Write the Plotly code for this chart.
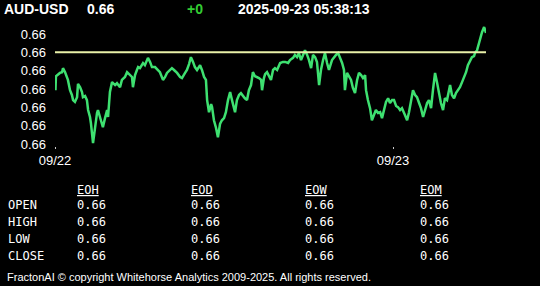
import plotly.graph_objects as go

# ---------------- data ----------------
symbol = "AUD-USD"
last_price = 0.66
change = "+0"
timestamp = "2025-09-23 05:38:13"
prev_close = 0.6595

# minutes since 2025-09-22 00:00
minutes = [0, 2, 4, 13, 21, 30, 34, 43, 51, 55, 64, 72, 77, 85, 94, 98, 107, 115, 119, 128,
           136, 141, 149, 153, 162, 170, 179, 183, 192, 200, 204, 213, 222, 226, 234, 243, 256, 264, 277, 285,
           298, 307, 320, 328, 332, 341, 349, 354, 362, 375, 383, 396, 405, 413, 426, 439, 447, 460, 469, 477,
           490, 498, 507, 520, 533, 541, 554, 562, 571, 579, 588, 596, 605, 618, 626, 635, 643, 648, 656, 665,
           669, 677, 686, 694, 703, 711, 720, 728, 737, 746, 754, 763, 767, 775, 784, 792, 801, 809, 818, 826,
           835, 843, 852, 861, 869, 878, 882, 890, 895, 903, 912, 920, 929, 937, 946, 959, 971, 980, 993, 1001,
           1014, 1022, 1031, 1039, 1048, 1056, 1065, 1074, 1082, 1091, 1099, 1108, 1116, 1125, 1133, 1142, 1150, 1159, 1167, 1180,
           1189, 1197, 1206, 1214, 1223, 1231, 1235, 1244, 1252, 1261, 1269, 1278, 1287, 1295, 1304, 1312, 1321, 1325, 1333, 1342,
           1350, 1359, 1367, 1376, 1385, 1393, 1402, 1410, 1419, 1427, 1436, 1444, 1453, 1461, 1470, 1478, 1487, 1500, 1508, 1517,
           1525, 1534, 1542, 1551, 1559, 1568, 1576, 1585, 1593, 1602, 1610, 1619, 1627, 1636, 1644, 1653, 1661, 1670, 1678, 1683,
           1691, 1700, 1708, 1717, 1725, 1734, 1742, 1751, 1759, 1768, 1776, 1785, 1789, 1798, 1802, 1811, 1819, 1828, 1832, 1836]

prices = [0.65888, 0.65847, 0.65885, 0.65891, 0.65894, 0.65896, 0.65907, 0.65896, 0.65883, 0.65875,
          0.65847, 0.65834, 0.65820, 0.65815, 0.65828, 0.65864, 0.65855, 0.65842, 0.65828, 0.65831,
          0.65820, 0.65793, 0.65774, 0.65757, 0.65703, 0.65746, 0.65785, 0.65793, 0.65774, 0.65760,
          0.65746, 0.65771, 0.65793, 0.65774, 0.65842, 0.65869, 0.65861, 0.65866, 0.65855, 0.65875,
          0.65883, 0.65896, 0.65888, 0.65883, 0.65855, 0.65888, 0.65902, 0.65910, 0.65907, 0.65921,
          0.65915, 0.65935, 0.65924, 0.65910, 0.65910, 0.65902, 0.65896, 0.65875, 0.65883, 0.65894,
          0.65902, 0.65907, 0.65902, 0.65894, 0.65883, 0.65880, 0.65894, 0.65902, 0.65918, 0.65937,
          0.65924, 0.65910, 0.65902, 0.65915, 0.65902, 0.65883, 0.65875, 0.65820, 0.65787, 0.65809,
          0.65801, 0.65765, 0.65744, 0.65719, 0.65755, 0.65765, 0.65771, 0.65787, 0.65820, 0.65842,
          0.65820, 0.65801, 0.65787, 0.65820, 0.65834, 0.65839, 0.65831, 0.65825, 0.65820, 0.65847,
          0.65861, 0.65896, 0.65885, 0.65883, 0.65880, 0.65875, 0.65847, 0.65880, 0.65891, 0.65896,
          0.65885, 0.65875, 0.65902, 0.65907, 0.65902, 0.65921, 0.65924, 0.65924, 0.65921, 0.65929,
          0.65935, 0.65943, 0.65937, 0.65948, 0.65929, 0.65943, 0.65956, 0.65943, 0.65929, 0.65907,
          0.65943, 0.65937, 0.65924, 0.65861, 0.65902, 0.65929, 0.65948, 0.65921, 0.65902, 0.65929,
          0.65937, 0.65943, 0.65948, 0.65935, 0.65921, 0.65902, 0.65847, 0.65894, 0.65885, 0.65875,
          0.65853, 0.65839, 0.65875, 0.65894, 0.65888, 0.65880, 0.65888, 0.65847, 0.65820, 0.65798,
          0.65765, 0.65782, 0.65793, 0.65785, 0.65787, 0.65771, 0.65798, 0.65815, 0.65825, 0.65812,
          0.65820, 0.65820, 0.65804, 0.65801, 0.65793, 0.65798, 0.65785, 0.65765, 0.65787, 0.65820,
          0.65847, 0.65834, 0.65828, 0.65812, 0.65798, 0.65774, 0.65793, 0.65812, 0.65820, 0.65798,
          0.65847, 0.65894, 0.65869, 0.65834, 0.65812, 0.65793, 0.65825, 0.65820, 0.65842, 0.65861,
          0.65834, 0.65825, 0.65839, 0.65847, 0.65855, 0.65869, 0.65880, 0.65896, 0.65915, 0.65929,
          0.65937, 0.65940, 0.65948, 0.65956, 0.65967, 0.65984, 0.66005, 0.66019, 0.66011, 0.66003]

date_ticks = [0, 1440]
date_labels = ["09/22", "09/23"]
price_ticks = [0.6570, 0.6575, 0.6580, 0.6585, 0.6590, 0.6595, 0.6600]

columns = ["EOH", "EOD", "EOW", "EOM"]
rows = ["OPEN", "HIGH", "LOW", "CLOSE"]
table_values = {
    "EOH": [0.66, 0.66, 0.66, 0.66],
    "EOD": [0.66, 0.66, 0.66, 0.66],
    "EOW": [0.66, 0.66, 0.66, 0.66],
    "EOM": [0.66, 0.66, 0.66, 0.66],
}
footer = "FractonAI © copyright Whitehorse Analytics 2009-2025. All rights reserved."

# ---------------- layout helpers ----------------
W, H = 540, 286
ML, MR, MT, MB = 55, 54, 23, 140
PW, PH = W - ML - MR, H - MT - MB


def px(x):
    return (x - ML) / PW


def py(y):
    return 1 - (y - MT) / PH


fig = go.Figure()
fig.add_trace(go.Scatter(x=minutes, y=prices, mode="lines",
                         line=dict(color="#3ee070", width=2.5), hoverinfo="skip"))
fig.add_trace(go.Scatter(x=[minutes[0], minutes[-1]], y=[prev_close, prev_close], mode="lines",
                         line=dict(color="#e8f0a8", width=2), hoverinfo="skip"))

annotations = []
hdr_font = dict(family="Liberation Sans, Arial", size=14, color="white")
annotations.append(dict(text=f"<b>{symbol}</b>", x=px(3), y=py(9), xanchor="left", yanchor="middle",
                        font=hdr_font))
annotations.append(dict(text=f"<b>{last_price:.2f}</b>", x=px(86), y=py(9), xanchor="left", yanchor="middle",
                        font=hdr_font))
annotations.append(dict(text=f"<b>{change}</b>", x=px(186), y=py(9), xanchor="left", yanchor="middle",
                        font=dict(family="Liberation Sans, Arial", size=14, color="#33cc33")))
annotations.append(dict(text=f"<b>{timestamp}</b>", x=px(237), y=py(9), xanchor="left", yanchor="middle",
                        font=hdr_font))

mono = dict(family="DejaVu Sans Mono, monospace", size=12, color="white")
col_x = [76, 190, 304, 419]
row_y = [205, 222, 239, 256]
for cx, col in zip(col_x, columns):
    annotations.append(dict(text=f"<u>{col}</u>", x=px(cx), y=py(190), xanchor="left", yanchor="middle",
                            font=mono))
    for ry, v in zip(row_y, table_values[col]):
        annotations.append(dict(text=f"{v:.2f}", x=px(cx), y=py(ry), xanchor="left", yanchor="middle",
                                font=mono))
for ry, r in zip(row_y, rows):
    annotations.append(dict(text=r, x=px(7), y=py(ry), xanchor="left", yanchor="middle", font=mono))

annotations.append(dict(text=footer, x=px(6), y=py(277), xanchor="left", yanchor="middle",
                        font=dict(family="Liberation Sans, Arial", size=11, color="white")))

for a in annotations:
    a.update(xref="paper", yref="paper", showarrow=False, xshift=0, yshift=0,
             borderpad=0)

fig.update_layout(
    width=W, height=H,
    margin=dict(l=ML, r=MR, t=MT, b=MB, pad=0),
    paper_bgcolor="black", plot_bgcolor="black",
    showlegend=False,
    annotations=annotations,
    xaxis=dict(range=[minutes[0], minutes[-1]], tickvals=date_ticks, ticktext=date_labels,
               showgrid=False, zeroline=False, showline=False,
               ticks="outside", ticklen=2, tickcolor="#cccccc", tickwidth=1,
               tickfont=dict(family="Liberation Sans, Arial", size=13, color="white")),
    yaxis=dict(range=[0.65695, 0.66030], tickvals=price_ticks, tickformat=".2f",
               showgrid=False, zeroline=False, showline=False,
               ticks="", ticklabelstandoff=8,
               tickfont=dict(family="Liberation Sans, Arial", size=13, color="white")),
)

fig.write_html("out.html")
